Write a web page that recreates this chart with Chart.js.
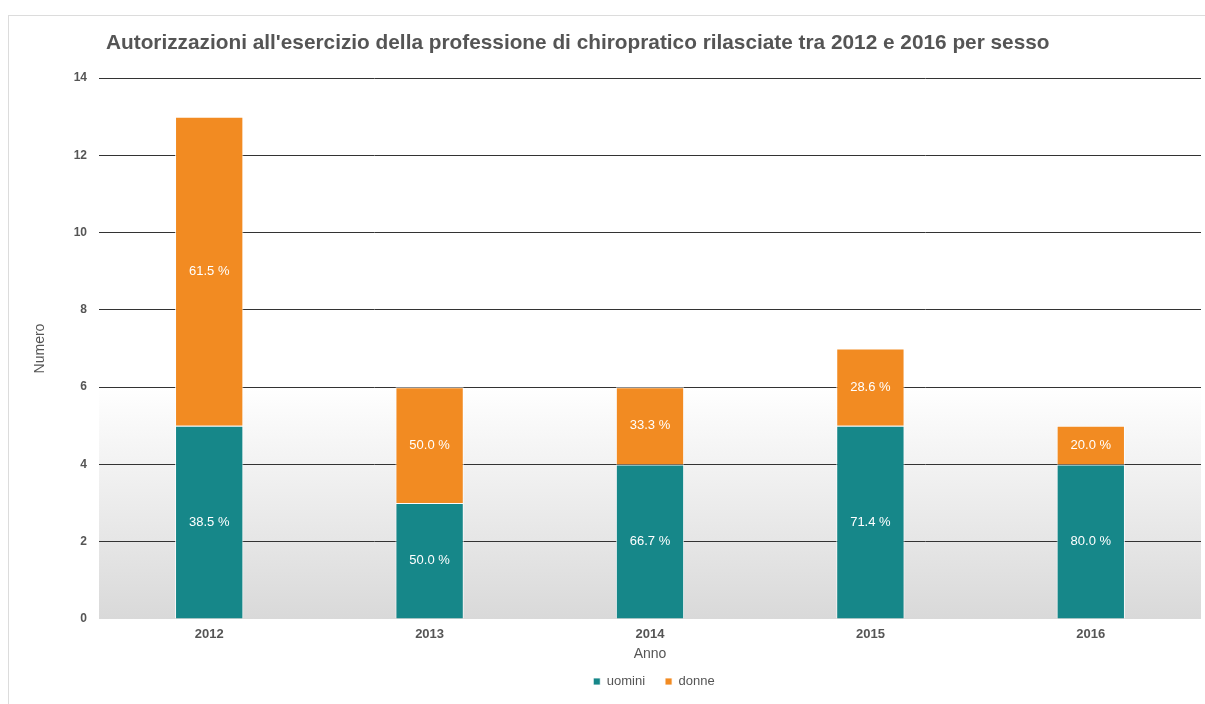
<!DOCTYPE html>
<html>
<head>
<meta charset="utf-8">
<script src="https://cdn.jsdelivr.net/npm/chart.js@4"></script>
<style>
  body { margin: 0; background: #fff; }
  #wrap { position: absolute; left: 0; top: 0; width: 1205px; height: 704px; }
  #frame { position: absolute; left: 8px; top: 15px; width: 1205px; height: 700px; border-left: 1px solid #dcdcdc; border-top: 1px solid #dcdcdc; }
</style>
</head>
<body>
<div id="wrap">
  <div id="frame"></div>
  <canvas id="chart" width="1205" height="704"></canvas>
</div>
<script>
// dati
const anni = ['2012', '2013', '2014', '2015', '2016'];
const uomini = [5, 3, 4, 5, 4];
const donne = [8, 3, 2, 2, 1];
const titolo = "Autorizzazioni all'esercizio della professione di chiropratico rilasciate tra 2012 e 2016 per sesso";

const font = "'Liberation Sans', Arial, sans-serif";

// sfondo sfumato dell'area del grafico
const sfondo = {
  id: 'sfondo',
  beforeDraw(chart) {
    const { ctx, chartArea: a } = chart;
    const g = ctx.createLinearGradient(0, a.top, 0, a.bottom);
    g.addColorStop(0, '#ffffff');
    g.addColorStop(0.57, '#ffffff');
    g.addColorStop(1, '#d9d9d9');
    ctx.save();
    ctx.fillStyle = g;
    ctx.fillRect(a.left, a.top, a.right - a.left, a.bottom - a.top);
    ctx.restore();
  }
};

// legenda centrata sull'area del grafico, non sul canvas
const spostaLegenda = {
  id: 'spostaLegenda',
  afterLayout(chart) {
    const a = chart.chartArea;
    const dx = (a.left + a.right) / 2 + 6 - chart.width / 2;
    chart.legend.left += dx;
    chart.legend.right += dx;
  }
};

// titolo allineato a sinistra + percentuali dentro le barre
const testi = {
  id: 'testi',
  afterDatasetsDraw(chart) {
    const { ctx } = chart;
    ctx.save();
    ctx.font = "bold 20.8px " + font;
    ctx.fillStyle = '#555555';
    ctx.textAlign = 'left';
    ctx.textBaseline = 'middle';
    ctx.fillText(titolo, 106, 43);

    ctx.font = "13px " + font;
    ctx.fillStyle = '#ffffff';
    ctx.textAlign = 'center';
    chart.data.datasets.forEach((ds, di) => {
      const meta = chart.getDatasetMeta(di);
      meta.data.forEach((bar, i) => {
        const tot = uomini[i] + donne[i];
        const pct = (ds.data[i] / tot * 100).toFixed(1) + ' %';
        const y = (bar.y + bar.base) / 2;
        ctx.fillText(pct, bar.x, y);
      });
    });
    ctx.restore();
  }
};

new Chart(document.getElementById('chart'), {
  type: 'bar',
  data: {
    labels: anni,
    datasets: [
      { label: 'uomini', data: uomini, backgroundColor: '#168789', borderColor: 'rgba(255,255,255,0.8)', borderWidth: 1, barPercentage: 0.62, categoryPercentage: 0.5 },
      { label: 'donne', data: donne, backgroundColor: '#f28b22', borderColor: 'rgba(255,255,255,0.8)', borderWidth: 1, barPercentage: 0.62, categoryPercentage: 0.5 }
    ]
  },
  options: {
    responsive: false,
    animation: false,
    layout: { padding: { top: 78, right: 4, bottom: 6, left: 0 } },
    plugins: {
      title: { display: false },
      tooltip: { enabled: false },
      legend: {
        position: 'bottom',
        labels: {
          usePointStyle: true,
          pointStyle: 'rect',
          boxWidth: 7,
          boxHeight: 7,
          padding: 20,
          color: '#555555',
          font: { family: font, size: 13 }
        }
      }
    },
    scales: {
      x: {
        stacked: true,
        grid: { display: false },
        border: { display: false },
        ticks: { color: '#555555', padding: 0, font: { family: font, size: 13, weight: 'bold' } },
        title: { display: true, text: 'Anno', color: '#555555', padding: { top: 4, bottom: -8 }, font: { family: font, size: 14 } },
        afterFit(scale) { scale.height = 36; }
      },
      y: {
        stacked: true,
        min: 0,
        max: 14,
        ticks: { stepSize: 2, color: '#555555', padding: 12, font: { family: font, size: 12, weight: 'bold' } },
        grid: {
          drawTicks: false,
          color: ctx => ctx.tick && ctx.tick.value === 0 ? 'rgba(0,0,0,0)' : '#333333',
          lineWidth: 1
        },
        border: { display: false },
        title: { display: true, text: 'Numero', color: '#555555', padding: { top: 32, bottom: 0 }, font: { family: font, size: 14 } },
        afterFit(scale) { scale.width = 99; }
      }
    }
  },
  plugins: [sfondo, spostaLegenda, testi]
});
</script>
</body>
</html>
